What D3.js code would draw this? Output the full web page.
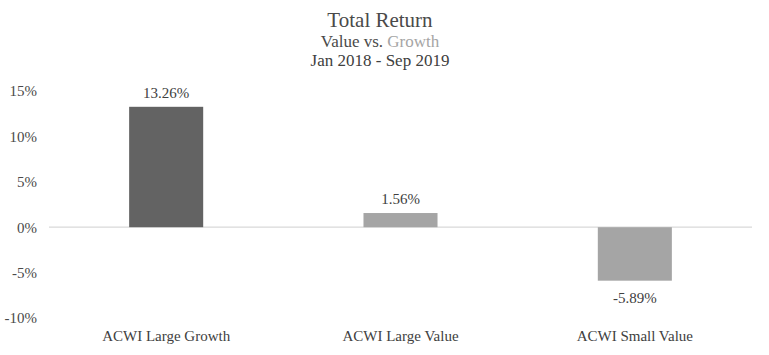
<!DOCTYPE html>
<html><head><meta charset="utf-8">
<script src="https://cdn.jsdelivr.net/npm/d3@7"></script>
<style>body{margin:0;background:#fff}svg{display:block}text{font-family:"Liberation Serif",serif}</style>
</head><body><svg id="c" width="769" height="355"></svg>
<script>
const categories = ["ACWI Large Growth", "ACWI Large Value", "ACWI Small Value"];
const values = [13.26, 1.56, -5.89];
const barColors = ["#636363", "#a5a5a5", "#a5a5a5"];
const yTicks = [15, 10, 5, 0, -5, -10];
const titleLines = ["Total Return", "Jan 2018 - Sep 2019"];

const svg = d3.select("#c");
const x = d3.scaleBand().domain(categories).range([49, 752]).paddingInner(0.684).paddingOuter(0.342);
const y = d3.scaleLinear().domain([-10, 15]).range([318, 91]);

// zero line
svg.append("line").attr("x1", 49).attr("x2", 752).attr("y1", y(0)).attr("y2", y(0))
  .attr("stroke", "#d9d9d9").attr("stroke-width", 1.3);

// y axis labels
const yAxis = d3.axisLeft(y).tickValues(yTicks).tickFormat(d => d + "%").tickSize(0).tickPadding(0);
const ga = svg.append("g").attr("transform", "translate(37,0)").call(yAxis);
ga.select(".domain").remove();
ga.selectAll("text").attr("font-family", "Liberation Serif").attr("font-size", 15).attr("fill", "#4a4a4a");

// bars
svg.selectAll("rect.bar").data(categories).join("rect").attr("class", "bar")
  .attr("x", d => x(d)).attr("width", x.bandwidth())
  .attr("y", (d, i) => y(Math.max(0, values[i])))
  .attr("height", (d, i) => Math.abs(y(values[i]) - y(0)))
  .attr("fill", (d, i) => barColors[i]);

// value labels
svg.selectAll("text.val").data(categories).join("text").attr("class", "val")
  .attr("x", d => x(d) + x.bandwidth() / 2)
  .attr("y", (d, i) => values[i] >= 0 ? y(values[i]) - 9 : y(values[i]) + 22)
  .attr("text-anchor", "middle").attr("font-size", 15).attr("fill", "#404040")
  .text((d, i) => values[i].toFixed(2) + "%");

// category labels
const xAxis = d3.axisBottom(x).tickSize(0).tickPadding(0);
const gx = svg.append("g").attr("transform", "translate(0,333)").call(xAxis);
gx.select(".domain").remove();
gx.selectAll("text").attr("font-family", "Liberation Serif").attr("font-size", 15).attr("fill", "#404040").attr("dy", "0.5em");

// titles
svg.append("text").attr("x", 380).attr("y", 27).attr("text-anchor", "middle")
  .attr("font-size", 21).attr("fill", "#4a4a4a").text(titleLines[0]);
const t2 = svg.append("text").attr("x", 380).attr("y", 47).attr("text-anchor", "middle")
  .attr("font-size", 17).attr("fill", "#4a4a4a");
t2.append("tspan").text("Value vs. ");
t2.append("tspan").attr("fill", "#a5a5a5").text("Growth");
svg.append("text").attr("x", 380).attr("y", 66).attr("text-anchor", "middle")
  .attr("font-size", 17).attr("fill", "#404040").text(titleLines[1]);
</script></body></html>
